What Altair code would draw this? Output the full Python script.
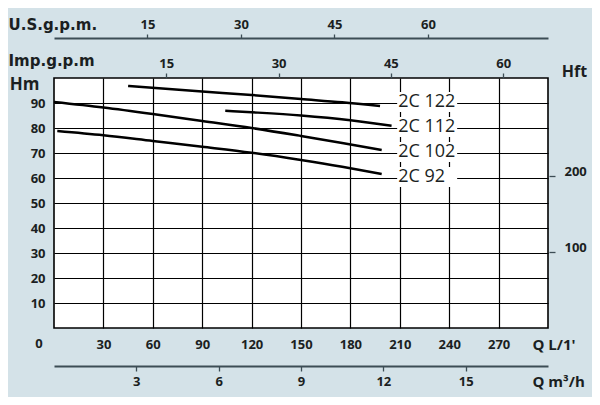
import altair as alt
import pandas as pd

# ---- curve data (Q in L/min, H in m) ----
Q_122 = [45, 90, 120, 150, 175, 198]
H_122 = [96.8, 94.6, 93.2, 91.6, 90.3, 88.8]
Q_112 = [104, 120, 150, 180, 205]
H_112 = [86.9, 86.3, 85.0, 83.1, 80.9]
Q_102 = [0, 30, 60, 90, 120, 150, 175, 199]
H_102 = [90.4, 88.2, 85.6, 82.8, 80.0, 76.8, 74.0, 71.2]
Q_92 = [2, 30, 60, 90, 120, 150, 175, 199]
H_92 = [78.8, 77.1, 74.8, 72.5, 70.1, 67.2, 64.5, 61.6]

MODELS = ["2C 122", "2C 112", "2C 102", "2C 92"]
LABEL_Q = [209, 209, 209, 209]
LABEL_H = [90, 80, 70, 60]

LPM_TICKS = [30, 60, 90, 120, 150, 180, 210, 240, 270]
HM_TICKS = [10, 20, 30, 40, 50, 60, 70, 80, 90]
M3H_TICKS = [3, 6, 9, 12, 15]
IMP_TICKS = [15, 30, 45, 60]
US_TICKS = [15, 30, 45, 60]
HFT_TICKS = [100, 200]
ORIGIN_LABEL = ["0"]

Q_MAX = 300
H_MAX = 100

rows = []
for name, qs, hs in zip(MODELS, [Q_122, Q_112, Q_102, Q_92], [H_122, H_112, H_102, H_92]):
    for q, h in zip(qs, hs):
        rows.append({"model": name, "q": q, "h": h})
curves_df = pd.DataFrame(rows)
labels_df = pd.DataFrame({"model": MODELS, "lq": LABEL_Q, "lh": LABEL_H})
origin_df = pd.DataFrame({"t": ORIGIN_LABEL, "q": [0], "h": [0]})

FONT = "Open Sans"
WIDE = "DejaVu Sans"
TXT = "#1b1f22"
AX = "#3c4d55"
BG = "#d4e2e8"
LFS = 13

lab = dict(labelFont=FONT, labelFontSize=LFS, labelFontWeight="bold", labelColor=TXT,
           labelOverlap=False, labelFlush=False,
           titleFontWeight="bold", titleColor=TXT)


def xs():
    return alt.Scale(domain=[0, Q_MAX], nice=False, zero=False)


def ys():
    return alt.Scale(domain=[0, H_MAX], nice=False, zero=False)


curves = alt.Chart(curves_df).mark_line(
    color="black", strokeWidth=2.5, interpolate="monotone"
).encode(
    x=alt.X("q:Q", scale=xs(), axis=alt.Axis(
        orient="bottom", values=LPM_TICKS, grid=True, gridColor="black", gridWidth=1.2,
        gridOpacity=1, domain=False, ticks=False, labelPadding=10,
        title="Q L/1'", titleX=478, titleY=16, titleAlign="left", titleBaseline="middle",
        titleFont=FONT, titleFontSize=15, **lab)),
    y=alt.Y("h:Q", scale=ys(), axis=alt.Axis(
        orient="left", values=HM_TICKS, grid=True, gridColor="black", gridWidth=1.2,
        gridOpacity=1, domain=False, ticks=False, labelPadding=9,
        title="Hm", titleAngle=0, titleX=-30, titleY=6, titleAlign="center",
        titleBaseline="middle", titleFont=FONT, titleFontSize=17, **lab)),
    detail="model:N",
)

boxes = alt.Chart(labels_df).mark_rect(
    color="white", width=60, height=20, xOffset=29, yOffset=-1
).encode(
    x=alt.X("lq:Q", scale=xs(), axis=None),
    y=alt.Y("lh:Q", scale=ys(), axis=None),
)

texts = alt.Chart(labels_df).mark_text(
    align="left", baseline="middle", font=FONT, fontSize=18, fontWeight=500,
    color=TXT, dy=-1
).encode(
    x=alt.X("lq:Q", scale=xs(), axis=None),
    y=alt.Y("lh:Q", scale=ys(), axis=None),
    text="model:N",
)

origin = alt.Chart(origin_df).mark_text(
    align="center", baseline="middle", font=FONT, fontSize=LFS, fontWeight="bold",
    color=TXT, dx=-15, dy=16
).encode(
    x=alt.X("q:Q", scale=xs(), axis=None),
    y=alt.Y("h:Q", scale=ys(), axis=None),
    text="t:N",
)

m3h = alt.Chart(pd.DataFrame({"v": M3H_TICKS})).mark_point(opacity=0).encode(
    x=alt.X("v:Q", scale=alt.Scale(domain=[0, Q_MAX * 0.06], nice=False, zero=False),
            axis=alt.Axis(orient="bottom", offset=38, values=M3H_TICKS, grid=False,
                          domain=True, domainColor=AX, domainWidth=2,
                          ticks=True, tickSize=5, tickColor=AX, tickWidth=1.3,
                          labelPadding=4,
                          title="Q m³/h", titleX=478, titleY=15, titleAlign="left",
                          titleBaseline="middle", titleFont=FONT, titleFontSize=15, **lab))
)

imp = alt.Chart(pd.DataFrame({"v": IMP_TICKS})).mark_point(opacity=0).encode(
    x=alt.X("v:Q", scale=alt.Scale(domain=[0, Q_MAX / 4.54609], nice=False, zero=False),
            axis=alt.Axis(orient="top", offset=0, values=IMP_TICKS, grid=False,
                          domain=False, ticks=True, tickSize=5, tickColor=AX, tickWidth=1.3,
                          labelPadding=3,
                          title="Imp.g.p.m", titleX=-46, titleY=-13, titleAlign="left",
                          titleBaseline="alphabetic", titleFont=WIDE, titleFontSize=15,
                          **lab))
)

us = alt.Chart(pd.DataFrame({"v": US_TICKS})).mark_point(opacity=0).encode(
    x=alt.X("v:Q", scale=alt.Scale(domain=[0, Q_MAX / 3.78541], nice=False, zero=False),
            axis=alt.Axis(orient="top", offset=40, values=US_TICKS, grid=False,
                          domain=True, domainColor=AX, domainWidth=2,
                          ticks=True, tickSize=4, tickColor=AX, tickWidth=1.3,
                          labelPadding=3,
                          title="U.S.g.p.m.", titleX=-46, titleY=-9, titleAlign="left",
                          titleBaseline="alphabetic", titleFont=WIDE, titleFontSize=15,
                          **lab))
)

hft = alt.Chart(pd.DataFrame({"v": HFT_TICKS})).mark_point(opacity=0).encode(
    y=alt.Y("v:Q", scale=alt.Scale(domain=[0, H_MAX / 0.3048], nice=False, zero=False),
            axis=alt.Axis(orient="right", offset=1, values=HFT_TICKS, grid=False,
                          domain=False, ticks=True, tickSize=6, tickColor=AX, tickWidth=1.3,
                          labelPadding=9, labelOffset=-4,
                          title="Hft", titleAngle=0, titleX=25, titleY=-7,
                          titleAlign="center", titleBaseline="middle", titleFont=FONT,
                          titleFontSize=16, **lab))
)

chart = alt.layer(curves, boxes, texts, origin, m3h, imp, us, hft).resolve_scale(
    x="independent", y="independent"
).properties(
    width=494, height=250,
    padding={"left": 46, "top": 70, "right": 44, "bottom": 69},
    autosize=alt.AutoSizeParams(type="none"),
    background=BG,
).configure_view(
    stroke="black", strokeWidth=1.6, fill="white"
)

chart.save("out.html", embed_options={"renderer": "svg", "actions": False})
